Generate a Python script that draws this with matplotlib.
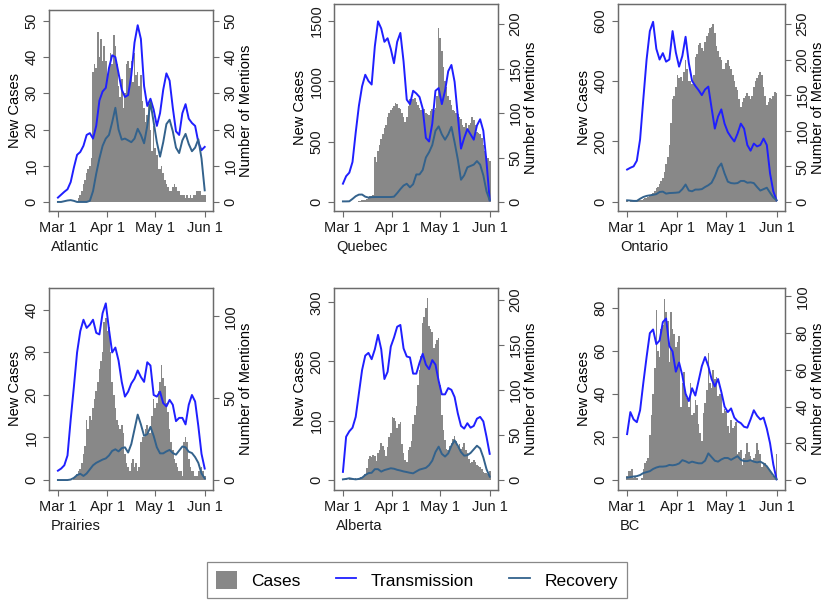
import numpy as np
import matplotlib
matplotlib.use("Agg")
import matplotlib.pyplot as plt
from matplotlib.patches import Patch
from matplotlib.lines import Line2D

plt.rcParams['font.family'] = ['Liberation Sans', 'DejaVu Sans']

# daily cases, Mar 1 .. Jun 1 (day 0 .. 92)
days = np.arange(93)
line_days = np.arange(0, 93, 2)

date_ticks = [0, 31, 61, 92]
date_labels = ['Mar 1', 'Apr 1', 'May 1', 'Jun 1']

regions = ['Atlantic', 'Quebec', 'Ontario', 'Prairies', 'Alberta', 'BC']

atlantic_cases = [0, 0, 0, 0, 0, 0, 0, 0, 0, 0, 0, 0, 0, 1, 2, 3, 5, 6, 8, 9, 10, 12,
                  36, 38, 37, 47, 40, 45, 39, 43, 39, 35, 37, 41, 38, 46, 43, 38, 32, 29,
                  34, 26, 30, 38, 39, 37, 39, 33, 41, 35, 36, 32, 35, 28, 26, 22, 24, 27,
                  20, 14, 21, 15, 13, 9, 9, 10, 8, 6, 5, 4, 3, 3, 4, 5, 4, 3, 3, 2, 2, 2,
                  1, 2, 1, 2, 1, 2, 2, 3, 3, 3, 2, 2, 2]
atlantic_trans = [1.2, 2.0, 2.8, 3.5, 5.5, 9.5, 13, 13.8, 15.5, 18.5, 19, 17.5, 21, 28, 30.5,
                  31.5, 37, 40.5, 40, 35.5, 31, 29, 29.5, 35, 44, 48.8, 45, 32, 26.5, 28.5,
                  25.5, 21, 24.5, 31, 35.5, 33.5, 26, 19.5, 18.5, 24.5, 27, 23, 21.8, 21,
                  16.5, 14.3, 15.2]
atlantic_recov = [0, 0, 0.2, 0.4, 0.5, 0.3, 0, 0, 0, 0, 0.3, 3, 7.8, 12, 15.5, 17.5, 18.5,
                  22, 26, 20, 17.2, 17.5, 17, 16.5, 17.5, 20.2, 18.5, 16.2, 21, 27.5, 22,
                  16.5, 12.5, 16.5, 21.5, 22.7, 19.5, 15, 13.5, 17, 18.8, 16, 14, 15, 17.3,
                  12, 3.2]

quebec_cases = [0, 0, 0, 0, 0, 0, 0, 0, 0, 3, 5, 10, 12, 17, 20, 25, 30, 45, 50, 60,
                375, 330, 420, 470, 520, 560, 610, 640, 700, 740, 760, 780, 790, 820, 810,
                780, 770, 740, 700, 660, 700, 790, 850, 840, 850, 860, 830, 800, 780, 760,
                790, 770, 740, 730, 720, 750, 770, 760, 780, 880, 1440, 1360, 1250, 1120,
                1000, 950, 880, 840, 800, 760, 750, 740, 730, 700, 690, 640, 620, 650, 600,
                640, 650, 700, 680, 640, 580, 570, 560, 530, 470, 420, 380, 360, 340]
quebec_trans = [20.6, 29, 33, 45, 78, 108, 130, 143, 136, 132, 175, 203, 195, 180, 184, 172,
                156, 180, 190, 158, 115, 110, 125, 122, 118, 105, 72, 68, 88, 125, 128, 110,
                125, 147, 154, 135, 97, 60, 72, 82, 76, 70, 86, 93, 80, 45, 2]
quebec_recov = [0.7, 0.7, 0.8, 3.5, 6.5, 8.3, 8.4, 6, 5, 5.5, 5.6, 5.6, 5.6, 5.6, 5.6, 5.6,
                6, 10, 14.5, 18.5, 20.5, 16.5, 20, 31, 31, 36, 50, 56, 64, 80, 85, 76, 70,
                76, 84.4, 67, 48, 25, 30, 39, 40.5, 42, 46, 42, 30, 12, 2]

ontario_cases = [2, 1, 2, 2, 3, 3, 4, 5, 6, 8, 10, 12, 14, 16, 20, 25, 30, 35, 45, 50, 60,
                 70, 80, 100, 125, 150, 190, 260, 340, 350, 380, 420, 410, 415, 400, 430, 470,
                 440, 400, 400, 390, 420, 480, 490, 520, 525, 510, 500, 530, 550, 560, 575,
                 580, 590, 560, 515, 500, 480, 470, 440, 440, 460, 470, 450, 440, 420, 400,
                 380, 370, 340, 315, 330, 345, 350, 360, 350, 340, 350, 380, 400, 410, 420,
                 430, 420, 380, 350, 320, 330, 345, 340, 350, 365, 360]
ontario_trans = [45.5, 48, 50, 58, 88, 145, 200, 240, 253, 215, 200, 209, 197, 200, 240, 210,
                 190, 205, 232, 195, 170, 163, 157, 150, 158, 162, 132, 103, 120, 130, 110,
                 98, 91, 85, 96, 110, 103, 80, 72, 82, 78, 80, 89, 80, 40, 15, 2.3]
ontario_recov = [2.3, 2, 1.5, 1.5, 4.5, 7, 8.5, 9.3, 10, 11, 14, 14.5, 11.7, 12.5, 12.7, 13,
                 13.5, 18, 24.5, 16, 15, 17.4, 17.4, 18, 21, 23.5, 27, 36, 48, 54, 40, 28.5,
                 26.5, 26, 26.5, 29.5, 29.5, 27, 27.5, 26.5, 21, 16, 18, 20, 13, 6.5, 2.3]

prairies_cases = [0, 0, 0, 0, 0, 0, 0, 0, 0, 0, 0.5, 1, 1.5, 2, 2.5, 4, 6, 8, 14, 12, 15,
                  14, 17, 19, 21, 23, 26, 28, 30, 37, 38, 35, 36, 30, 23, 20, 17, 14, 13, 12,
                  13, 11, 6, 4, 3, 2, 4, 5, 3, 4, 2, 3, 9, 10, 10, 12, 13, 11, 11, 15, 19, 17,
                  18, 21, 23, 27, 24, 22, 18, 16, 12, 9, 7, 5, 4, 3, 2, 2, 1, 9, 10, 9, 5, 3,
                  2, 2, 1, 1, 2, 2, 3, 2, 1]
prairies_trans = [5.7, 7, 9, 15, 37, 57, 78, 91, 98, 93, 95, 98, 90, 89, 102, 108, 92, 78,
                  81, 73, 60, 51, 54, 59, 62, 67, 63, 60, 72, 70, 52, 51, 54, 47, 45, 49, 46,
                  36, 38, 38, 34, 46, 52, 48, 33, 16, 7]
prairies_recov = [0, 0, 0, 0, 0.3, 1.3, 3, 3.8, 2.5, 4, 6.5, 9, 10.5, 11.5, 12.5, 13.2, 15,
                  17.8, 18.8, 17.5, 19.5, 20, 16.8, 22, 31, 40, 34, 27, 28, 32.5, 27, 20,
                  16.3, 16.3, 17.5, 18.4, 16.5, 15.5, 18, 20.5, 20, 17.3, 16.5, 14, 10.5, 4, 1]

alberta_cases = [0, 0, 1, 0, 1, 2, 1, 2, 3, 2, 3, 5, 4, 6, 10, 20, 35, 40, 38, 42, 40, 32,
                 45, 50, 62, 58, 50, 40, 55, 72, 80, 107, 104, 100, 88, 95, 98, 60, 45, 33,
                 30, 50, 55, 65, 95, 110, 125, 160, 185, 210, 265, 275, 290, 307, 260, 255,
                 250, 222, 230, 237, 240, 160, 110, 85, 68, 52, 50, 58, 62, 70, 75, 65, 56,
                 60, 52, 55, 62, 50, 45, 35, 28, 30, 34, 30, 26, 24, 22, 18, 14, 12, 11, 10, 15]
alberta_trans = [9, 48, 54, 58, 70, 96, 122, 138, 141, 134, 145, 161, 145, 112, 120, 148, 158,
                 170, 172, 146, 137, 136, 118, 118, 130, 140, 128, 123, 133, 128, 110, 95, 95,
                 102, 100, 92, 74, 60, 57, 63, 58, 60, 68, 70, 65, 48, 29]
alberta_recov = [0.7, 1.2, 1.9, 1.2, 0.7, 1.2, 2.5, 5.5, 7.6, 8, 12, 12, 9.3, 11, 12, 13,
                 12.5, 11.3, 10.5, 9.5, 8.8, 8, 7.4, 9.5, 11.5, 12.5, 13.5, 16.5, 21.5, 31, 37,
                 29, 26, 29.5, 38, 44, 38, 31, 27, 27.5, 30, 34, 38, 35, 25, 12, 3.7]

bc_cases = [2, 4, 4, 5, 1, 2, 1, 0, 0, 1, 5, 8, 9, 10, 21, 30, 40, 52, 79, 60, 57, 70, 72,
            84, 78, 74, 55, 78, 70, 68, 62, 64, 67, 34, 45, 50, 40, 38, 34, 45, 30, 31, 37,
            35, 26, 22, 18, 31, 36, 42, 59, 45, 43, 51, 47, 48, 39, 40, 42, 31, 33, 32, 25,
            22, 28, 24, 25, 27, 12, 13, 14, 7, 10, 12, 17, 13, 11, 9, 10, 12, 17, 14, 12, 6,
            8, 8, 6, 5, 4, 3, 2, 1, 12]
bc_trans = [25, 37, 33, 31.5, 38, 53, 67, 80, 82, 74, 76, 86, 88, 73, 70, 59, 64, 57, 47, 43,
            50, 46, 54, 62, 67, 62, 55, 51, 55, 48, 40, 37, 39, 34, 32, 31, 29, 28.5, 33, 38,
            35, 33, 34, 28, 20, 8.5, 0.4]
bc_recov = [1.3, 1.6, 1.9, 2.1, 2.7, 3.8, 4.3, 4.8, 6, 6.8, 7.3, 7.3, 7.5, 8.2, 8, 8.3, 9,
            10.8, 10.2, 9.3, 10, 9.5, 9.1, 9.1, 10.5, 14.5, 12.5, 10.5, 10, 11.2, 12, 12, 11,
            12, 13, 11, 10.3, 10.3, 10.8, 10, 9.6, 10, 9, 7.5, 5, 2.5, 0.4]

cases = [atlantic_cases, quebec_cases, ontario_cases, prairies_cases, alberta_cases, bc_cases]
trans = [atlantic_trans, quebec_trans, ontario_trans, prairies_trans, alberta_trans, bc_trans]
recov = [atlantic_recov, quebec_recov, ontario_recov, prairies_recov, alberta_recov, bc_recov]

left_ticks = [range(0, 51, 10), range(0, 1501, 500), range(0, 601, 200),
              range(0, 41, 10), range(0, 301, 100), range(0, 81, 20)]
right_ticks = [range(0, 51, 10), range(0, 201, 50), range(0, 251, 50),
               range(0, 101, 50), range(0, 201, 50), range(0, 101, 20)]

# layout: plot frames in pixels (left, top, right, bottom) and axis ranges
W, H = 824, 602
frames = [(49, 10, 213, 211), (334, 4, 498, 211), (618, 4, 785, 211),
          (49, 288, 213, 490), (334, 288, 498, 490), (618, 288, 785, 490)]
left_lims = [(-2.5, 53), (-75, 1638), (-30, 655), (-2.35, 45.1), (-16.9, 324), (-4.66, 89.3)]
right_lims = [(-2.5, 53), (-10.1, 222.5), (-12.7, 278), (-6.1, 117.4), (-11.1, 213), (-5.45, 104.6)]

bar_color = '#888888'
trans_color = '#1f1fff'
recov_color = '#33628c'
frame_color = '#6b6b6b'
fs = 10.5

fig = plt.figure(figsize=(8.24, 6.02), dpi=100)

for i in range(6):
    l, t, r, b = frames[i]
    ax = fig.add_axes([l / W, 1 - b / H, (r - l) / W, (b - t) / H])
    ax.bar(days, cases[i], width=1.0, color=bar_color, linewidth=0)
    ax.set_xlim(-5.6, 97.2)
    ax.set_ylim(*left_lims[i])
    ax.set_yticks(list(left_ticks[i]))
    ax.set_xticks(date_ticks)
    ax.set_xticklabels(date_labels)
    ax.set_ylabel('New Cases', fontsize=fs, labelpad=2)
    ax.tick_params(axis='y', labelrotation=90)
    for lab in ax.get_yticklabels():
        lab.set_va('center')

    ax2 = ax.twinx()
    ax2.plot(line_days, trans[i], color=trans_color, lw=1.4)
    ax2.plot(line_days, recov[i], color=recov_color, lw=1.4)
    ax2.set_ylim(*right_lims[i])
    ax2.set_yticks(list(right_ticks[i]))
    ax2.set_ylabel('Number of Mentions', fontsize=fs, labelpad=1)
    ax2.tick_params(axis='y', labelrotation=90)
    for lab in ax2.get_yticklabels():
        lab.set_va('center')

    for a in (ax, ax2):
        a.tick_params(length=4.5, width=0.8, color=frame_color, labelsize=fs, pad=3,
                      labelcolor='#1a1a1a')
        for sp in a.spines.values():
            sp.set_color(frame_color)
            sp.set_linewidth(0.9)

    fig.text((l + 2) / W, 1 - (b + 36) / H, regions[i], fontsize=fs, va='center',
             ha='left', color='#1a1a1a')

handles = [Patch(facecolor=bar_color, edgecolor='none'),
           Line2D([], [], color=trans_color, lw=1.3),
           Line2D([], [], color=recov_color, lw=1.3)]
leg = fig.legend(handles, ['Cases', 'Transmission', 'Recovery'], loc='center',
                 bbox_to_anchor=(417 / W, 1 - 580 / H), ncol=3, fontsize=12.5,
                 frameon=True, fancybox=False, edgecolor=frame_color,
                 handlelength=1.2, handleheight=1.25, handletextpad=0.85,
                 columnspacing=2.0, borderpad=0.5)
leg.get_frame().set_linewidth(0.9)

fig.savefig('out.png', dpi=100)
